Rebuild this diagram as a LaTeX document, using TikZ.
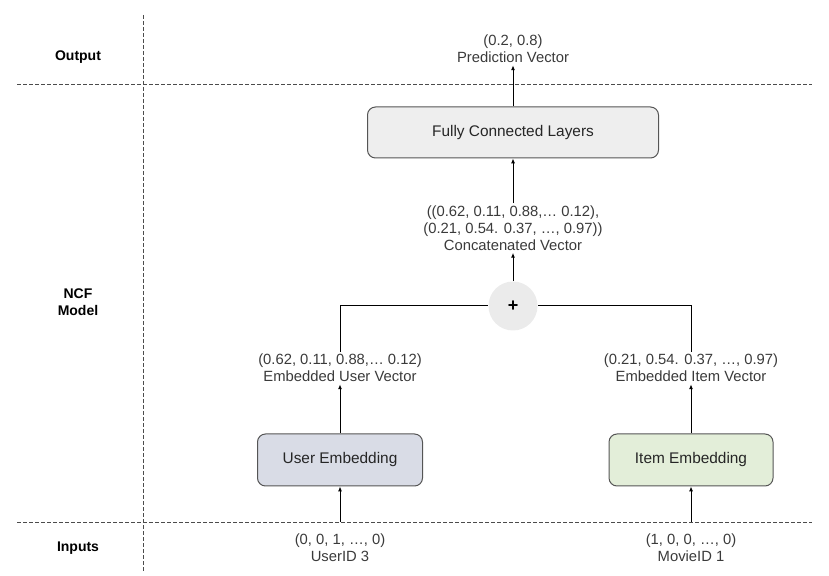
\documentclass[tikz,border=0pt]{standalone}
\usepackage{fontspec}
\setmainfont{Liberation Sans}
\usetikzlibrary{arrows.meta}
\definecolor{txtgray}{HTML}{3A3A3A}
\definecolor{boxgray}{HTML}{EEEEEE}
\definecolor{userfill}{HTML}{D9DCE6}
\definecolor{itemfill}{HTML}{E3EED9}
\definecolor{plusfill}{HTML}{EBEBEB}
\definecolor{edgegray}{HTML}{555555}
\tikzset{
  layerbox/.style={draw=edgegray, line width=0.5pt, rounded corners=4pt, inner sep=0pt, font=\fontsize{7.7}{9}\selectfont, text=black!85},
  vectxt/.style={align=center, font=\fontsize{7.4}{8.5}\selectfont, text=txtgray, inner sep=1pt},
  sidetxt/.style={align=center, font=\fontsize{7}{8.2}\selectfont\bfseries},
  guide/.style={dashed, dash pattern=on 2pt off 1pt, line width=0.4pt, black!70},
  flow/.style={line width=0.5pt, -{Latex[length=2.4pt,width=2pt]}},
}
\begin{document}
\begin{tikzpicture}[x=0.5pt, y=-0.5pt]
  \useasboundingbox (0,0) rectangle (829,576);

  % --- 区切り線 ---
  \draw[guide] (143,15) -- (143,572);
  \draw[guide] (17,84) -- (812,84);
  \draw[guide] (17,522) -- (812,522);

  % --- 左側の見出し ---
  \node[sidetxt] (lblout) at (78,57) {Output};
  \node[sidetxt] (lblncf) at (78,302) {NCF\\Model};
  \node[sidetxt] (lblin) at (78,548) {Inputs};

  % --- 出力 ---
  \node[vectxt] (pred) at (513,49) {(0.2, 0.8)\\Prediction Vector};
  \node[layerbox, fill=boxgray, minimum width=145.5pt, minimum height=25.5pt] (fcl) at (513,132.5) {Fully Connected Layers};
  \node[vectxt] (concat) at (513,228) {((0.62, 0.11, 0.88,\dots\ 0.12),\\(0.21, 0.54. 0.37, \dots, 0.97))\\Concatenated Vector};
  \node[circle, fill=plusfill, minimum size=24.5pt, inner sep=0pt, font=\fontsize{9}{9}\selectfont\bfseries] (plus) at (513,306) {+};

  % --- 埋め込みベクトル ---
  \node[vectxt] (uvec) at (340,368) {(0.62, 0.11, 0.88,\dots\ 0.12)\\Embedded User Vector};
  \node[vectxt] (ivec) at (691,368) {(0.21, 0.54. 0.37, \dots, 0.97)\\Embedded Item Vector};
  \node[layerbox, fill=userfill, minimum width=82.5pt, minimum height=26pt] (uemb) at (340,460) {User Embedding};
  \node[layerbox, fill=itemfill, minimum width=82pt, minimum height=26pt] (iemb) at (691,460) {Item Embedding};

  % --- 入力 ---
  \node[vectxt] (uid) at (340,548) {(0, 0, 1, \dots, 0)\\UserID 3};
  \node[vectxt] (mid) at (691,548) {(1, 0, 0, \dots, 0)\\MovieID 1};
  \coordinate (ubase) at (340,522);
  \coordinate (ibase) at (691,522);

  % --- 矢印 ---
  \draw[flow] (ubase) -- (uemb);
  \draw[flow] (ibase) -- (iemb);
  \draw[flow] (uemb) -- (uvec);
  \draw[flow] (iemb) -- (ivec);
  \draw[line width=0.5pt] (uvec.north) |- (plus.west);
  \draw[line width=0.5pt] (ivec.north) |- (plus.east);
  \draw[flow] (plus) -- (concat);
  \draw[flow] (concat) -- (fcl);
  \draw[flow] (fcl) -- (pred);
\end{tikzpicture}
\end{document}
